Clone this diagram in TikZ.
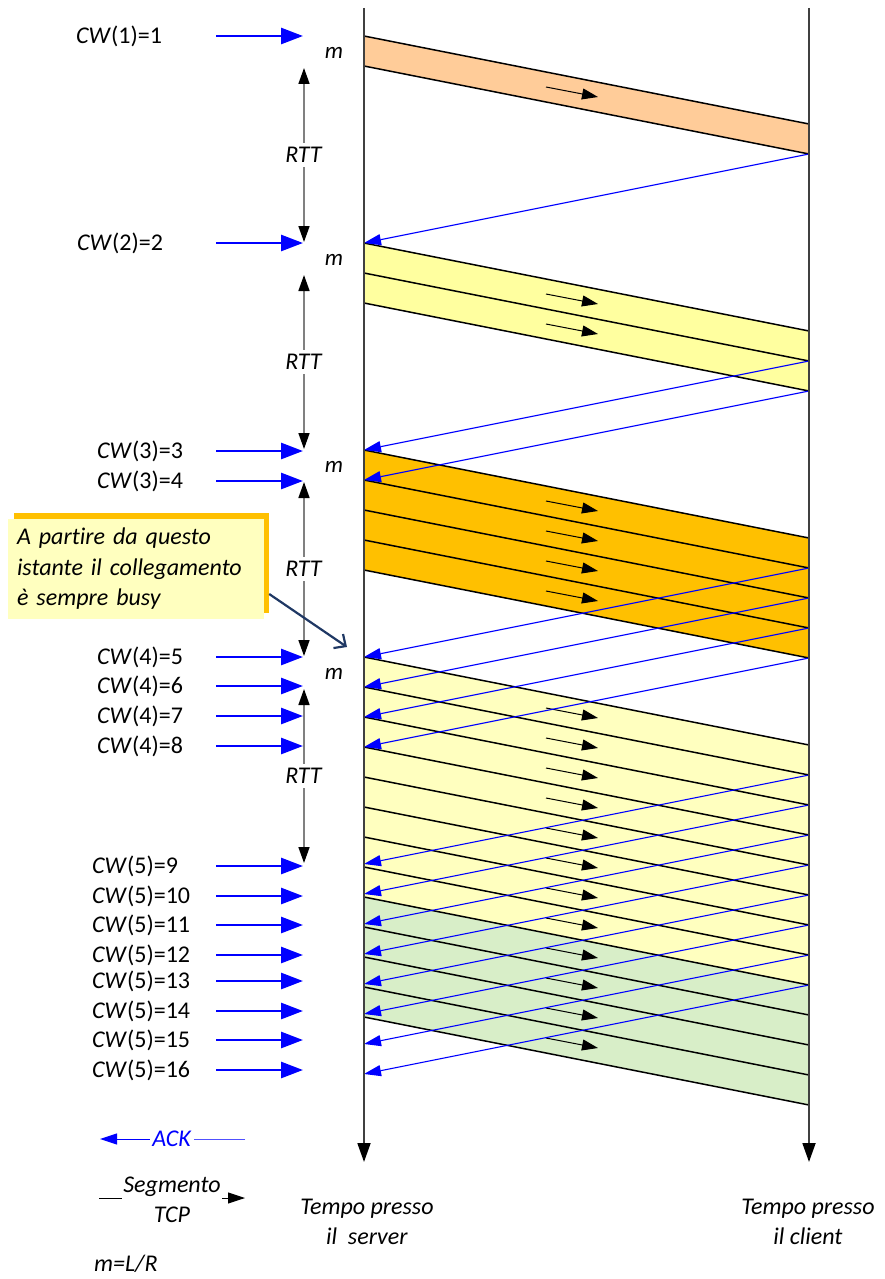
\documentclass[tikz,border=0pt]{standalone}
\usepackage{fontspec}
\setmainfont{Carlito}[Ligatures=NoCommon]
\usetikzlibrary{arrows.meta}

\definecolor{peach}{HTML}{FFCC99}
\definecolor{lemon}{HTML}{FFFF9F}
\definecolor{amber}{HTML}{FFC000}
\definecolor{palelemon}{HTML}{FFFFBF}
\definecolor{sage}{HTML}{D8EEC8}
\definecolor{navy}{HTML}{1F3864}
\definecolor{axisgray}{HTML}{404040}
\definecolor{rttgray}{HTML}{808080}
\definecolor{softblue}{HTML}{5050FF}

\tikzset{
  txt/.style={font=\fontsize{24}{30}\selectfont, inner sep=0pt},
  cwlabel/.style={txt, anchor=west},
  cwarrow/.style={blue, line width=2.8pt, -{Triangle[length=22pt,width=16pt]}},
  segline/.style={black, line width=1.5pt},
  dirarrow/.style={black, line width=1pt, -{Triangle[length=16pt,width=11pt]}},
  ackline/.style={blue, line width=1.1pt, -{Triangle[length=17pt,width=11pt]}},
  timeline/.style={axisgray, line width=1.8pt, -{Triangle[length=19pt,width=13pt,color=black]}},
  rttline/.style={rttgray, line width=1.6pt,
    {Triangle[length=16pt,width=11pt,color=black]}-{Triangle[length=16pt,width=11pt,color=black]}},
  rttlabel/.style={txt, fill=white, inner xsep=2pt, inner ysep=4pt},
  mlabel/.style={font=\fontsize{23}{26}\selectfont\itshape, inner sep=0pt},
  calloutbox/.style={fill=palelemon, minimum width=256pt, minimum height=100pt,
    text width=238pt, align=left, inner xsep=9pt, inner ysep=0pt,
    font=\fontsize{24}{30.5}\selectfont\itshape},
  calloutshade/.style={fill=amber, minimum width=255pt, minimum height=100pt, inner sep=0pt},
  callarrow/.style={navy, line width=2.2pt, -{Straight Barb[length=9pt,width=17pt]}},
}

\newcommand{\sendwindow}[3]{%
  \fill[#3] (364,#1) -- (809,{#1+88}) -- (809,{#2+88}) -- (364,#2) -- cycle;}

\begin{document}
\begin{tikzpicture}[x=1pt,y=-1pt]
\useasboundingbox (0,0) rectangle (884,1279);

% ---- bands of segments in flight (server -> client)
\sendwindow{36}{66}{peach}
\sendwindow{243}{303}{lemon}
\sendwindow{450}{570}{amber}
\sendwindow{657}{897}{palelemon}
\sendwindow{897}{1017}{sage}

% segment boundaries
\foreach \t in {36,66,243,273,303,450,480,510,540,570,657,687,...,1017}{
  \coordinate (segL-\t) at (364,\t);
  \coordinate (segR-\t) at (809,{\t+88});
  \draw[segline] (segL-\t) -- (segR-\t);
}

% direction marks inside each segment
\foreach \s in {36,243,273,450,480,510,540,657,687,...,987}{
  \coordinate (dirA-\s) at (546,{\s+51});
  \coordinate (dirB-\s) at (598,{\s+61});
  \draw[dirarrow] (dirA-\s) -- (dirB-\s);
}

% acknowledgements (client -> server)
\foreach \e in {66,273,303,480,510,540,570,687,717,...,897}{
  \coordinate (ackC-\e) at (809,{\e+88});
  \coordinate (ackS-\e) at (364,{\e+177});
  \draw[ackline] (ackC-\e) -- (ackS-\e);
}

% time axes
\coordinate (srvtop) at (364,8);
\coordinate (srvend) at (364,1162);
\coordinate (clitop) at (809,8);
\coordinate (cliend) at (809,1162);
\draw[timeline] (srvtop) -- (srvend);
\draw[timeline] (clitop) -- (cliend);

% congestion window steps
\foreach \n/\k/\x/\y in {1/1/76/36, 2/2/77/243, 3/3/97/451, 4/3/97/481,
    5/4/97/657, 6/4/97/686, 7/4/97/716, 8/4/97/746,
    9/5/92/866, 10/5/92/896, 11/5/92/925, 12/5/92/955,
    13/5/92/981, 14/5/92/1011, 15/5/92/1040, 16/5/92/1070}{
  \node[cwlabel] (cw\n) at (\x,\y) {\textit{CW}(\k)=\n};
  \coordinate (cwA\n) at (216,\y);
  \coordinate (cwB\n) at (303,\y);
  \draw[cwarrow] (cwA\n) -- (cwB\n);
}

% round trip times and transmission time marks
\foreach \t in {36,243,450,657}{
  \coordinate (rttA-\t) at (304,{\t+32});
  \coordinate (rttB-\t) at (304,{\t+206});
  \draw[rttline] (rttA-\t) -- (rttB-\t);
  \node[rttlabel] (rtt-\t) at (304,{\t+119}) {\textit{RTT}};
  \node[mlabel] (m-\t) at (334,{\t+17}) {m};
}

% callout
\node[calloutshade] (calloutshadow) at (141.5,563) {};
\node[calloutbox] (callout) at (136,569)
  {A partire da questo\\istante il collegamento\\è sempre busy};
\coordinate (busy) at (347,647);
\draw[callarrow] ([yshift=-31pt]calloutshadow.east) -- (busy);

% legend
\coordinate (ackR) at (245,1139);
\coordinate (ackL) at (100,1139);
\draw[ackline, line width=1pt] (ackR) -- (ackL);
\node[txt, fill=white, text=blue, inner xsep=2pt] (acklab) at (172,1139) {\textit{ACK}};
\draw[softblue, line width=1pt] (acklab.east) -- (ackR);

\coordinate (tcpL) at (99,1198);
\coordinate (tcpR) at (245,1198);
\draw[black, line width=1pt, -{Triangle[length=17pt,width=11pt]}] (tcpL) -- (tcpR);
\node[txt, fill=white, align=center, inner xsep=1pt] (tcplab) at (172,1200)
  {\textit{Segmento}\\\textit{TCP}};

\node[txt, anchor=west] (mdef) at (94,1264) {\textit{m=L/R}};

\node[txt, align=center] (srvlab) at (367,1222) {\textit{Tempo presso}\\\textit{il\ \ server}};
\node[txt, align=center] (clilab) at (808,1222) {\textit{Tempo presso}\\\textit{il client}};

\end{tikzpicture}
\end{document}
